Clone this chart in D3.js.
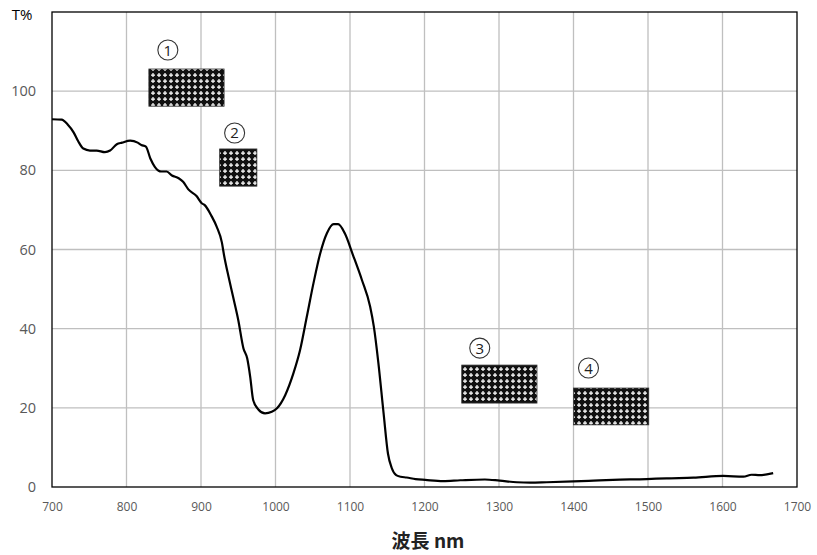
<!DOCTYPE html>
<html>
<head>
<meta charset="utf-8">
<script src="https://cdn.jsdelivr.net/npm/d3@7/dist/d3.min.js"></script>
<style>
  html, body { margin: 0; padding: 0; background: #fff; }
  svg { display: block; }
</style>
</head>
<body>
<svg id="chart" width="817" height="555"></svg>
<script>
// Transmittance spectrum (wavelength in nm, transmittance in %)
const wavelength = [700, 713, 721, 729, 735, 742, 751, 760, 771, 778, 787, 794, 805, 815, 820, 826, 832, 838, 847, 854, 861, 870, 876, 883, 894, 901, 905, 914, 921, 928, 931, 937, 943, 950, 957, 962, 966, 970, 977, 986, 995, 1002, 1013, 1024, 1033, 1042, 1051, 1060, 1069, 1078, 1084, 1093, 1104, 1116, 1127, 1132, 1138, 1145, 1151, 1156, 1162, 1168, 1176, 1188, 1201, 1225, 1248, 1281, 1301, 1324, 1342, 1364, 1400, 1427, 1453, 1498, 1525, 1561, 1601, 1628, 1639, 1650, 1668];
const transmittance = [92.9, 92.8, 91.6, 89.6, 87.4, 85.5, 85.0, 85.0, 84.6, 85.0, 86.6, 87.0, 87.5, 87.0, 86.4, 86.0, 83.0, 80.9, 79.7, 79.7, 78.7, 78.0, 77.1, 75.2, 73.5, 71.7, 71.2, 68.5, 65.8, 61.8, 58.5, 53.1, 48.1, 42.2, 35.0, 32.5, 27.9, 22.0, 19.6, 18.6, 19.0, 19.9, 23.2, 28.7, 34.6, 43.0, 51.5, 59.0, 64.1, 66.4, 66.4, 64.1, 58.6, 52.3, 45.6, 40.5, 31.5, 18.8, 8.4, 4.8, 3.0, 2.6, 2.4, 2.0, 1.8, 1.5, 1.7, 1.9, 1.6, 1.2, 1.1, 1.2, 1.4, 1.6, 1.8, 2.0, 2.2, 2.35, 2.8, 2.6, 3.1, 3.0, 3.5];

// Marked wavelength bands: number, from nm, to nm, low %, high %
const bandNumbers = ["1", "2", "3", "4"];
const bandFrom = [830, 925, 1250, 1400];
const bandTo = [931, 975, 1351, 1501];
const bandLow = [96.2, 76.0, 21.2, 15.7];
const bandHigh = [105.6, 85.4, 30.8, 25.0];

const xTicks = [700, 800, 900, 1000, 1100, 1200, 1300, 1400, 1500, 1600, 1700];
const yTicks = [0, 20, 40, 60, 80, 100];

const svg = d3.select("#chart");
const plotLeft = 52, plotRight = 797, plotTop = 12, plotBottom = 487;

const x = d3.scaleLinear().domain([700, 1700]).range([plotLeft, plotRight]);
const y = d3.scaleLinear().domain([0, 120]).range([plotBottom, plotTop]);

// Cross-hatch fill for the band boxes
const defs = svg.append("defs");
const pat = defs.append("pattern")
  .attr("id", "crossFill")
  .attr("patternUnits", "userSpaceOnUse")
  .attr("width", 6).attr("height", 6);
pat.append("rect").attr("width", 6).attr("height", 6).attr("fill", "#111");
pat.append("path")
  .attr("d", "M3,1 V5 M1,3 H5")
  .attr("stroke", "#fff").attr("stroke-width", 1.25);

// Grid
const grid = svg.append("g");
grid.selectAll("line.v").data(xTicks.slice(1, -1)).join("line")
  .attr("class", "v")
  .attr("x1", d => x(d)).attr("x2", d => x(d))
  .attr("y1", plotTop).attr("y2", plotBottom)
  .attr("stroke", "#bfbfbf").attr("stroke-width", 1.3);
grid.selectAll("line.h").data(yTicks.slice(1)).join("line")
  .attr("class", "h")
  .attr("x1", plotLeft).attr("x2", plotRight)
  .attr("y1", d => y(d)).attr("y2", d => y(d))
  .attr("stroke", "#bfbfbf").attr("stroke-width", 1.3);

// Frame
svg.append("rect")
  .attr("x", plotLeft).attr("y", plotTop)
  .attr("width", plotRight - plotLeft).attr("height", plotBottom - plotTop)
  .attr("fill", "none").attr("stroke", "#000").attr("stroke-width", 1.3);

// Tick labels via d3 axes without lines
const xAxis = svg.append("g")
  .attr("transform", `translate(0,${plotBottom})`)
  .call(d3.axisBottom(x).tickValues(xTicks).tickSize(0).tickPadding(15).tickFormat(d3.format("d")));
xAxis.select(".domain").remove();
xAxis.selectAll("text")
  .attr("fill", "#595959")
  .style("font-family", "'Open Sans', 'Noto Sans', sans-serif")
  .style("font-size", "12px");

const yAxis = svg.append("g")
  .attr("transform", `translate(${plotLeft},0)`)
  .call(d3.axisLeft(y).tickValues(yTicks).tickSize(0).tickPadding(16).tickFormat(d3.format("d")));
yAxis.select(".domain").remove();
yAxis.selectAll("text")
  .attr("fill", "#595959")
  .style("font-family", "'Open Sans', 'Noto Sans', sans-serif")
  .style("font-size", "14.5px");

// Band boxes with circled numbers above their left end
const markerOffset = [[19, 19], [15, 16], [18, 17], [15, 20]];
const bands = bandNumbers.map((n, i) => ({
  n, x0: bandFrom[i], x1: bandTo[i], y0: bandLow[i], y1: bandHigh[i],
  mx: markerOffset[i][0], my: markerOffset[i][1]
}));
svg.append("g").selectAll("rect").data(bands).join("rect")
  .attr("x", d => x(d.x0)).attr("y", d => y(d.y1))
  .attr("width", d => x(d.x1) - x(d.x0))
  .attr("height", d => y(d.y0) - y(d.y1))
  .attr("fill", "url(#crossFill)")
  .attr("stroke", "#333").attr("stroke-width", 0.8);

const markers = svg.append("g").selectAll("g").data(bands).join("g")
  .attr("transform", d => `translate(${x(d.x0) + d.mx},${y(d.y1) - d.my})`);
markers.append("circle")
  .attr("r", 10)
  .attr("fill", "#fff")
  .attr("stroke", "#333").attr("stroke-width", 1.1);
markers.append("text")
  .attr("y", 5.5)
  .attr("text-anchor", "middle")
  .attr("fill", "#222")
  .style("font-family", "'Open Sans', 'Noto Sans', sans-serif")
  .style("font-size", "15px")
  .text(d => d.n);

// Spectrum curve
const pts = wavelength.map((w, i) => [w, transmittance[i]]);
svg.append("path")
  .datum(pts)
  .attr("fill", "none")
  .attr("stroke", "#000")
  .attr("stroke-width", 2.2)
  .attr("stroke-linejoin", "round")
  .attr("d", d3.line().x(d => x(d[0])).y(d => y(d[1])).curve(d3.curveMonotoneX));

// Axis titles
svg.append("text")
  .attr("x", 22).attr("y", 20)
  .attr("text-anchor", "middle")
  .attr("fill", "#000")
  .style("font-family", "'Open Sans', 'Noto Sans', sans-serif")
  .style("font-size", "15px")
  .style("font-weight", "500")
  .text("T%");

svg.append("text")
  .attr("x", 428).attr("y", 548)
  .attr("text-anchor", "middle")
  .attr("fill", "#222")
  .style("font-family", "'Noto Sans CJK JP', sans-serif")
  .style("font-size", "19px")
  .style("font-weight", "bold")
  .text("波長 nm");
</script>
</body>
</html>
